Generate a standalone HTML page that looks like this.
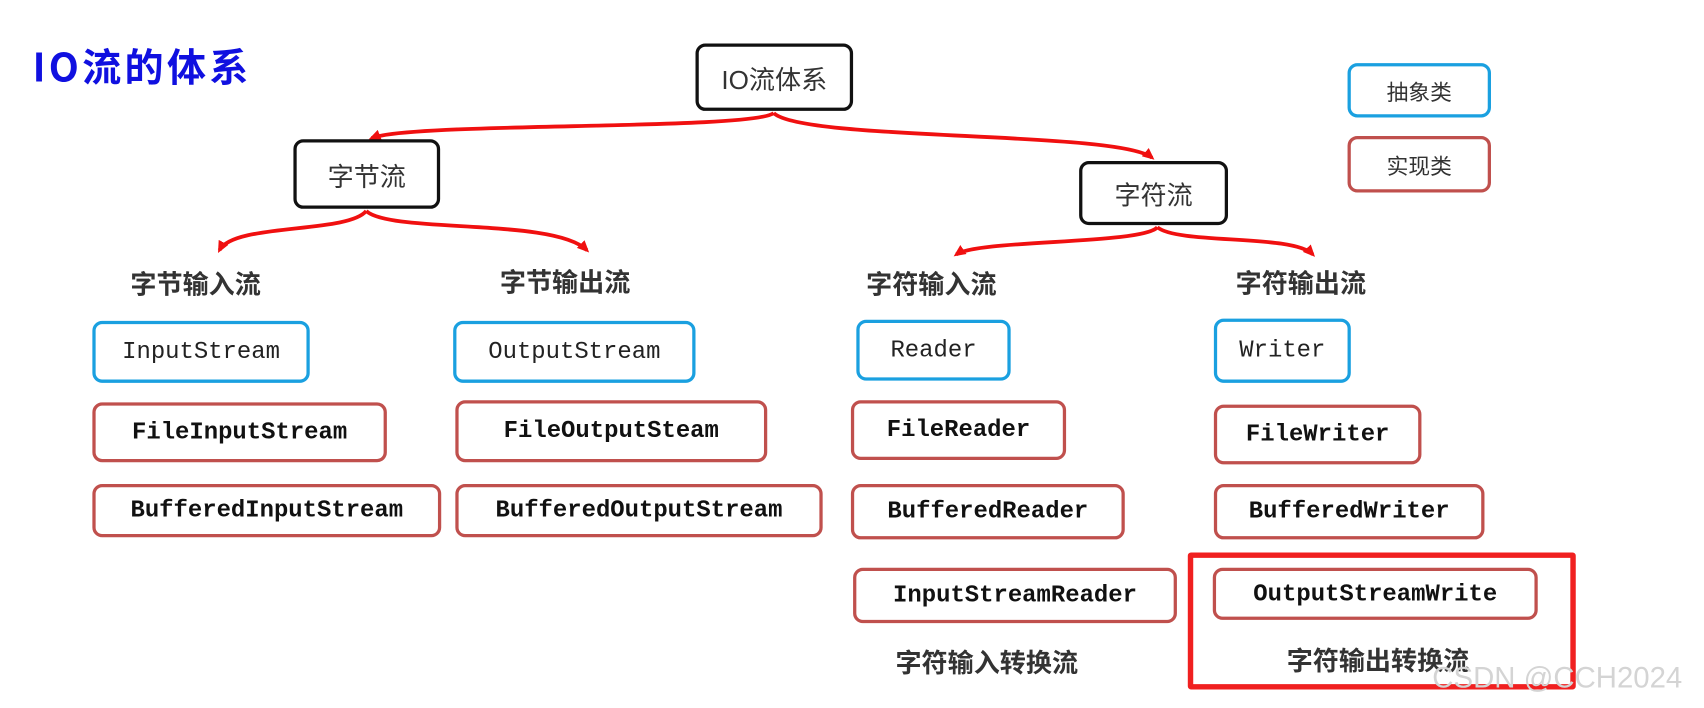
<!DOCTYPE html>
<html><head><meta charset="utf-8"><style>
html,body{margin:0;padding:0;background:#fff;width:1704px;height:708px;overflow:hidden}
#w{position:absolute;left:0;top:0;width:1568px;height:651px;transform:scale(1.08673,1.08756);transform-origin:0 0;font-family:"Liberation Sans","Noto Sans CJK SC",sans-serif}
.b{position:absolute;box-sizing:border-box;border-radius:9px;display:flex;align-items:center;justify-content:center;background:#fff}
.k{border:3px solid #111;font-size:24px;color:#333}
.a{border:3px solid #1aa0e0;font-family:"Liberation Mono",monospace;font-size:22px;color:#222}
.r{border:3px solid #c0504d;font-family:"Liberation Mono",monospace;font-size:22px;color:#111;font-weight:bold}
.l{position:absolute;font-weight:bold;font-size:24px;color:#333;white-space:nowrap;transform:translateX(-50%)}
</style></head><body><div id="w">
<div style="position:absolute;left:30px;top:34px;font-size:36px;font-weight:bold;color:#1010e0;font-family:'Noto Sans CJK SC',sans-serif;letter-spacing:3px">IO流的体系</div>
<svg width="1568" height="651" style="position:absolute;left:0;top:0">
<defs><marker id="m" markerUnits="userSpaceOnUse" markerWidth="12" markerHeight="12" refX="8" refY="6" orient="auto"><path d="M0,1 L11,6 L0,11 z" fill="#f01010"/></marker></defs>
<g fill="none" stroke="#f01010" stroke-width="3.5" marker-end="url(#m)">
<path d="M712,104 C690,120 380,112 342,127"/>
<path d="M712,104 C740,130 1030,120 1060,145"/>
<path d="M337,194 C320,215 215,205 202,230"/>
<path d="M337,194 C360,215 510,200 540,230"/>
<path d="M1065,209 C1050,225 900,220 880,234"/>
<path d="M1065,209 C1085,225 1190,215 1208,234"/>
</g></svg>
<div class="b k" style="left:640px;top:40px;width:145px;height:62px">IO流体系</div>
<div class="b k" style="left:270px;top:128px;width:135px;height:64px">字节流</div>
<div class="b k" style="left:993px;top:148px;width:137px;height:59px">字符流</div>
<div class="b" style="left:1240px;top:58px;width:132px;height:50px;border:3px solid #1aa0e0;font-size:20px;color:#333">抽象类</div>
<div class="b" style="left:1240px;top:125px;width:132px;height:52px;border:3px solid #c0504d;font-size:20px;color:#333">实现类</div>
<div class="l" style="left:180px;top:242px">字节输入流</div>
<div class="l" style="left:520px;top:240px">字节输出流</div>
<div class="l" style="left:857px;top:242px">字符输入流</div>
<div class="l" style="left:1197px;top:241px">字符输出流</div>
<div class="b a" style="left:85px;top:295px;width:200px;height:57px">InputStream</div>
<div class="b a" style="left:417px;top:295px;width:223px;height:57px">OutputStream</div>
<div class="b a" style="left:788px;top:294px;width:142px;height:56px">Reader</div>
<div class="b a" style="left:1117px;top:293px;width:126px;height:59px">Writer</div>
<div class="b r" style="left:85px;top:370px;width:271px;height:55px">FileInputStream</div>
<div class="b r" style="left:419px;top:368px;width:287px;height:57px">FileOutputSteam</div>
<div class="b r" style="left:783px;top:368px;width:198px;height:55px">FileReader</div>
<div class="b r" style="left:1117px;top:372px;width:191px;height:55px">FileWriter</div>
<div class="b r" style="left:85px;top:445px;width:321px;height:49px">BufferedInputStream</div>
<div class="b r" style="left:419px;top:445px;width:338px;height:49px">BufferedOutputStream</div>
<div class="b r" style="left:783px;top:445px;width:252px;height:51px">BufferedReader</div>
<div class="b r" style="left:1117px;top:445px;width:249px;height:51px">BufferedWriter</div>
<div class="b r" style="left:785px;top:522px;width:298px;height:51px">InputStreamReader</div>
<div style="position:absolute;left:1093px;top:508px;width:357px;height:126px;box-sizing:border-box;border:5px solid #f02020;border-radius:3px"></div>
<div class="b r" style="left:1116px;top:522px;width:299px;height:48px">OutputStreamWrite</div>
<div class="l" style="left:908px;top:590px">字符输入转换流</div>
<div class="l" style="left:1268px;top:588px">字符输出转换流</div>
<div style="position:absolute;left:1318px;top:608px;font-size:27px;color:#d4d4d4;white-space:nowrap">CSDN @CCH2024</div>
</div></body></html>
